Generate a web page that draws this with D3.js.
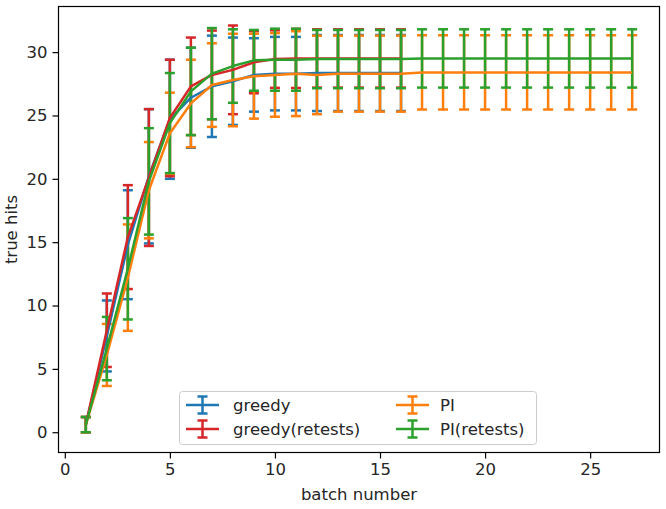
<!DOCTYPE html>
<html><head><meta charset="utf-8">
<script src="https://cdn.jsdelivr.net/npm/d3@7"></script>
<style>
body{margin:0;background:#fff}
text{font-family:"DejaVu Sans",sans-serif}
</style>
</head><body>
<svg id="chart" width="666" height="509"></svg>
<script>
// ---- data ----
const batchesGreedy = [1,2,3,4,5,6,7,8,9,10,11,12,13,14,15,16];
const batchesPI = [1,2,3,4,5,6,7,8,9,10,11,12,13,14,15,16,17,18,19,20,21,22,23,24,25,26,27];

const greedyMean = [0.6, 7.6, 14.8, 20.2, 24.7, 26.4, 27.3, 27.7, 28.2, 28.3, 28.3, 28.35, 28.35, 28.35, 28.35, 28.35];
const greedyErr  = [0.6, 2.8, 4.3, 5.3, 4.7, 3.95, 4.0, 3.45, 2.9, 2.9, 2.9, 3.0, 3.0, 3.0, 3.0, 3.0];

const greedyRetestsMean = [0.6, 8.05, 15.4, 20.1, 24.8, 27.3, 28.2, 28.6, 29.2, 29.45, 29.5, 29.5, 29.5, 29.5, 29.5, 29.5];
const greedyRetestsErr  = [0.6, 2.9, 4.1, 5.4, 4.6, 3.85, 3.5, 3.5, 2.45, 2.27, 2.33, 2.3, 2.3, 2.3, 2.3, 2.3];

const piMean = [0.6, 6.1, 12.2, 19.1, 23.6, 25.95, 27.4, 27.8, 28.1, 28.2, 28.3, 28.2, 28.3, 28.3, 28.3, 28.3,
                28.4, 28.4, 28.4, 28.4, 28.4, 28.4, 28.4, 28.4, 28.4, 28.4, 28.4];
const piErr  = [0.6, 2.45, 4.2, 3.8, 3.2, 3.45, 3.3, 3.65, 3.35, 3.3, 3.35, 3.1, 3.0, 3.0, 3.0, 3.0,
                2.93, 2.93, 2.93, 2.93, 2.93, 2.93, 2.93, 2.93, 2.93, 2.93, 2.93];

const piRetestsMean = [0.6, 6.6, 12.9, 19.8, 24.4, 26.9, 28.3, 28.9, 29.35, 29.4, 29.4, 29.45, 29.45, 29.45, 29.45, 29.45,
                       29.5, 29.5, 29.5, 29.5, 29.5, 29.5, 29.5, 29.5, 29.5, 29.5, 29.5];
const piRetestsErr  = [0.6, 2.5, 4.0, 4.2, 3.95, 3.45, 3.6, 2.9, 2.4, 2.45, 2.45, 2.3, 2.3, 2.3, 2.3, 2.3,
                       2.3, 2.3, 2.3, 2.3, 2.3, 2.3, 2.3, 2.3, 2.3, 2.3, 2.3];

const seriesNames = ["greedy", "greedy(retests)", "PI", "PI(retests)"];
const seriesColors = ["#1f77b4", "#d62728", "#ff7f0e", "#2ca02c"];
const xTicks = [0, 5, 10, 15, 20, 25];
const yTicks = [0, 5, 10, 15, 20, 25, 30];
const xLabel = "batch number";
const yLabel = "true hits";

// ---- build ----
const series = [
  {name: seriesNames[0], color: seriesColors[0], xs: batchesGreedy, m: greedyMean, e: greedyErr},
  {name: seriesNames[1], color: seriesColors[1], xs: batchesGreedy, m: greedyRetestsMean, e: greedyRetestsErr},
  {name: seriesNames[2], color: seriesColors[2], xs: batchesPI, m: piMean, e: piErr},
  {name: seriesNames[3], color: seriesColors[3], xs: batchesPI, m: piRetestsMean, e: piRetestsErr}
].map(s => ({...s, pts: s.xs.map((x, i) => ({x, y: s.m[i], err: s.e[i]}))}));

const L = 58.5, R = 659.5, T = 6.5, B = 452.5;
const FS = 16.5;
const x = d3.scaleLinear().domain([-0.3, 28.3]).range([L, R]);
const y = d3.scaleLinear().domain([-1.6, 33.6]).range([B, T]);

const svg = d3.select("#chart");
const lw = 2.5, cap = 5;

// error bars (all drawn below data lines)
series.forEach(s => {
  const g = svg.append("g").attr("stroke", s.color).attr("stroke-width", lw).attr("fill", "none");
  g.selectAll("line.bar").data(s.pts).enter().append("line")
    .attr("x1", d => x(d.x)).attr("x2", d => x(d.x))
    .attr("y1", d => y(d.y - d.err)).attr("y2", d => y(d.y + d.err));
  g.selectAll("line.capt").data(s.pts).enter().append("line")
    .attr("x1", d => x(d.x) - cap).attr("x2", d => x(d.x) + cap)
    .attr("y1", d => y(d.y + d.err)).attr("y2", d => y(d.y + d.err));
  g.selectAll("line.capb").data(s.pts).enter().append("line")
    .attr("x1", d => x(d.x) - cap).attr("x2", d => x(d.x) + cap)
    .attr("y1", d => y(d.y - d.err)).attr("y2", d => y(d.y - d.err));
});

// data lines
const lineGen = d3.line().x(d => x(d.x)).y(d => y(d.y));
series.forEach(s => {
  svg.append("path").datum(s.pts).attr("d", lineGen)
    .attr("fill", "none").attr("stroke", s.color).attr("stroke-width", lw)
    .attr("stroke-linejoin", "round").attr("stroke-linecap", "butt");
});

// axes
const xAxis = d3.axisBottom(x).tickValues(xTicks).tickSize(6).tickPadding(5).tickFormat(d3.format("d"));
const yAxis = d3.axisLeft(y).tickValues(yTicks).tickSize(6).tickPadding(5).tickFormat(d3.format("d"));
const gx = svg.append("g").attr("transform", `translate(0,${B})`).call(xAxis);
const gy = svg.append("g").attr("transform", `translate(${L},0)`).call(yAxis);
[gx, gy].forEach(g => {
  g.select(".domain").remove();
  g.selectAll(".tick line").attr("stroke", "#000").attr("stroke-width", 1.2);
  g.selectAll(".tick text").attr("fill", "#262626").style("font-size", FS + "px")
    .style("font-family", "'DejaVu Sans', sans-serif");
});

// frame
svg.append("rect").attr("x", L).attr("y", T).attr("width", R - L).attr("height", B - T)
  .attr("fill", "none").attr("stroke", "#000").attr("stroke-width", 1.2);

// axis labels
svg.append("text").attr("x", (L + R) / 2).attr("y", 500).attr("text-anchor", "middle")
  .style("font-size", FS + "px").attr("fill", "#262626").text(xLabel);
svg.append("text").attr("transform", `translate(17,${(T + B) / 2}) rotate(-90)`)
  .attr("text-anchor", "middle").style("font-size", FS + "px").attr("fill", "#262626").text(yLabel);

// legend
const lg = svg.append("g");
lg.append("rect").attr("x", 179.5).attr("y", 391.5).attr("width", 357).attr("height", 53).attr("rx", 3)
  .attr("fill", "#fff").attr("fill-opacity", 0.8).attr("stroke", "#cccccc").attr("stroke-width", 1);
const legendItems = [
  {s: series[0], hx: 186, tx: 233, cy: 405},
  {s: series[1], hx: 186, tx: 233, cy: 429},
  {s: series[2], hx: 396, tx: 440, cy: 405},
  {s: series[3], hx: 396, tx: 440, cy: 429}
];
legendItems.forEach(it => {
  const g = lg.append("g").attr("stroke", it.s.color).attr("stroke-width", lw);
  const hl = 33, mx = it.hx + hl / 2;
  g.append("line").attr("x1", it.hx).attr("x2", it.hx + hl).attr("y1", it.cy).attr("y2", it.cy);
  g.append("line").attr("x1", mx).attr("x2", mx).attr("y1", it.cy - 8.5).attr("y2", it.cy + 8.5);
  g.append("line").attr("x1", mx - cap).attr("x2", mx + cap).attr("y1", it.cy - 8.5).attr("y2", it.cy - 8.5);
  g.append("line").attr("x1", mx - cap).attr("x2", mx + cap).attr("y1", it.cy + 8.5).attr("y2", it.cy + 8.5);
  lg.append("text").attr("x", it.tx).attr("y", it.cy).attr("dy", "0.35em")
    .style("font-size", FS + "px").attr("fill", "#262626").text(it.s.name);
});
</script>
</body></html>
